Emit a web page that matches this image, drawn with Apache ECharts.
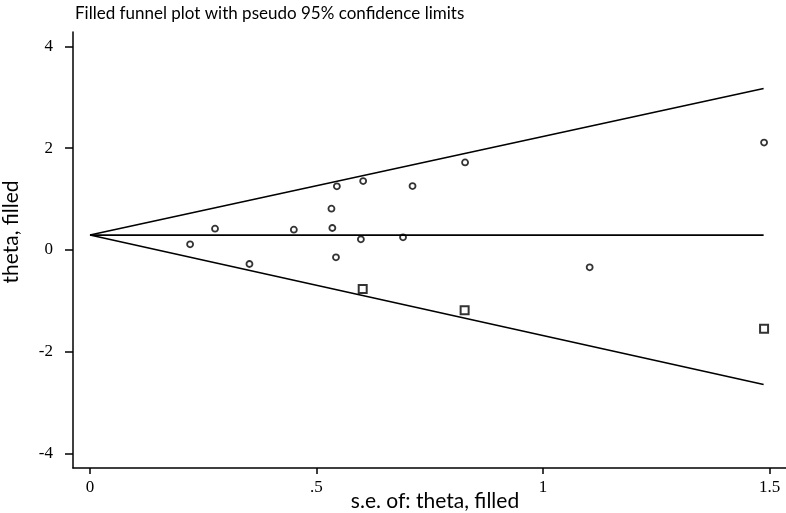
<!DOCTYPE html>
<html>
<head>
<meta charset="utf-8">
<script src="https://cdn.jsdelivr.net/npm/echarts@6/dist/echarts.min.js"></script>
<style>html,body{margin:0;padding:0;background:#fff}#c{width:786px;height:513px}</style>
</head>
<body>
<div id="c"></div>
<script>
// Observed studies
var obsSe =    [0.221, 0.276, 0.352, 0.450, 0.533, 0.535, 0.545, 0.543, 0.598, 0.603, 0.691, 0.712, 0.828, 1.103, 1.488];
var obsTheta = [0.112, 0.418, -0.275, 0.399, 0.811, 0.432, 1.25, -0.144, 0.21, 1.354, 0.249, 1.256, 1.72, -0.34, 2.11];
// Filled (imputed) studies
var filledSe =    [0.602, 0.827, 1.488];
var filledTheta = [-0.765, -1.184, -1.545];
// Funnel (pseudo 95% confidence limits)
var funnelSe = [0, 1.487];
var funnelCenter = [0.294, 0.294];
var funnelUpper = [0.294, 3.17];
var funnelLower = [0.294, -2.64];
// Ticks
var xTicks = [0, 0.5, 1, 1.5];
var xTickLabels = ['0', '.5', '1', '1.5'];
var yTicks = [-4, -2, 0, 2, 4];

function zip(a, b) { return a.map(function (v, i) { return [v, b[i]]; }); }

var chart = echarts.init(document.getElementById('c'), null, {renderer: 'canvas'});
var lineStyle = {color: '#000', width: 1.7};
var serif = '"Liberation Serif", "DejaVu Serif", serif';
var sans = 'Lato, "Open Sans", sans-serif';

chart.setOption({
  animation: false,
  backgroundColor: '#fff',
  title: {
    text: 'Filled funnel plot with pseudo 95% confidence limits',
    left: 70, top: 0,
    textStyle: {fontFamily: sans, fontSize: 17, fontWeight: 'normal', color: '#000'}
  },
  grid: {left: 73, right: 0, top: 32, bottom: 45, containLabel: false, outerBoundsMode: 'none'},
  xAxis: {
    type: 'value', min: -0.0375, max: 1.5364,
    splitLine: {show: false},
    axisLine: {show: true, onZero: false, lineStyle: {color: '#000', width: 1.5}},
    axisTick: {show: true, length: 6, customValues: xTicks, lineStyle: {color: '#000', width: 1.5}},
    axisLabel: {
      customValues: xTicks, margin: 11, color: '#000', fontFamily: serif, fontSize: 17,
      formatter: function (v) { var i = xTicks.indexOf(v); return i >= 0 ? xTickLabels[i] : ''; }
    }
  },
  yAxis: {
    type: 'value', min: -4.28, max: 4.28,
    splitLine: {show: false},
    axisLine: {show: true, onZero: false, lineStyle: {color: '#000', width: 1.5}},
    axisTick: {show: true, length: 8, customValues: yTicks, lineStyle: {color: '#000', width: 1.5}},
    axisLabel: {customValues: yTicks, margin: 20, color: '#000', fontFamily: serif, fontSize: 17}
  },
  graphic: [{
    type: 'text', x: 1, y: 232, rotation: Math.PI / 2,
    style: {text: 'theta, filled', fontFamily: sans, fontSize: 21, fill: '#000', align: 'center', verticalAlign: 'top'}
  }, {
    type: 'text', x: 435, y: 501,
    style: {text: 's.e. of: theta, filled', fontFamily: sans, fontSize: 21, fill: '#000', align: 'center', verticalAlign: 'middle'}
  }],
  series: [
    {type: 'line', data: zip(funnelSe, funnelUpper), symbol: 'none', lineStyle: lineStyle, silent: true},
    {type: 'line', data: zip(funnelSe, funnelCenter), symbol: 'none', lineStyle: lineStyle, silent: true},
    {type: 'line', data: zip(funnelSe, funnelLower), symbol: 'none', lineStyle: lineStyle, silent: true},
    {type: 'scatter', data: zip(obsSe, obsTheta), symbol: 'circle', symbolSize: 6,
     itemStyle: {color: '#fff', borderColor: '#000', borderWidth: 1.8}},
    {type: 'scatter', data: zip(filledSe, filledTheta), symbol: 'rect', symbolSize: 8,
     itemStyle: {color: '#fff', borderColor: '#000', borderWidth: 2}}
  ]
});
</script>
</body>
</html>
